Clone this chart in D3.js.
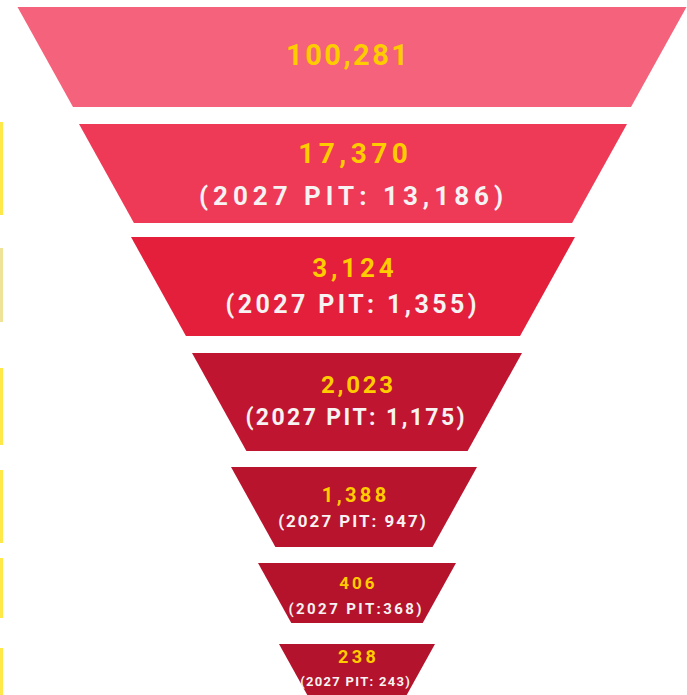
<!DOCTYPE html>
<html>
<head>
<meta charset="utf-8">
<script src="https://cdn.jsdelivr.net/npm/d3@7/dist/d3.min.js"></script>
<style>
  html, body { margin: 0; padding: 0; background: #ffffff; }
  svg { display: block; }
  text { font-family: Roboto, "Open Sans", sans-serif; font-weight: 700; }
</style>
</head>
<body>
<svg id="chart" width="687" height="695"></svg>
<script>
// ---- data ----
const stages = ["Stage 1", "Stage 2", "Stage 3", "Stage 4", "Stage 5", "Stage 6", "Stage 7"];
const counts = [100281, 17370, 3124, 2023, 1388, 406, 238];
const pit2027 = [null, 13186, 1355, 1175, 947, 368, 243];
const pitLabelPrefix = ["", "2027 PIT: ", "2027 PIT: ", "2027 PIT: ", "2027 PIT: ", "2027 PIT:", "2027 PIT: "];
const stageColors = ["#f5627b", "#ee3a56", "#e31f3b", "#bf1530", "#b9142e", "#b5132c", "#b3132c"];

// ---- layout (styling, not data) ----
const W = 687, H = 695;
const segTop = [7, 124, 237, 353, 467, 563, 644];
const segHeight = [100, 99, 99, 98, 80, 60, 62];
const segTopHalf = [334.5, 274, 222, 165, 123, 99, 78];
const segCenter = [352, 353, 353, 357, 354, 357, 357];
const sideSlope = 0.555;
const mainFont = [29, 28, 26, 24, 20, 17, 18];
const mainLS = [2.5, 4.5, 3.8, 2.8, 3.4, 3, 3.4];
const mainBase = [65, 163, 277, 393, 502, 589, 663];
const subFont = [0, 26, 25, 23, 17, 15, 13];
const subLS = [0, 5, 3.4, 2.4, 2, 2.4, 1.3];
const subBase = [0, 205, 313, 425, 527, 614, 686];
const edgeMarks = [[122, 215], [248, 322], [368, 445], [470, 543], [558, 618], [648, 695]];

const svg = d3.select("#chart");
svg.append("rect").attr("width", W).attr("height", H).attr("fill", "#ffffff");

const color = d3.scaleOrdinal().domain(stages).range(stageColors);
const fmt = d3.format(",");

// decorative yellow marks on the left edge
svg.append("g").selectAll("rect").data(edgeMarks).join("rect")
  .attr("x", 0).attr("width", 3)
  .attr("y", d => d[0]).attr("height", d => d[1] - d[0])
  .attr("fill", (d, i) => i === 1 ? "#efe39a" : "#ffe84a");

const rows = stages.map((s, i) => ({
  stage: s, count: counts[i], pit: pit2027[i], i
}));

const g = svg.append("g");
g.selectAll("path.seg").data(rows).join("path")
  .attr("class", "seg")
  .attr("fill", d => color(d.stage))
  .attr("d", d => {
    const i = d.i;
    const y0 = segTop[i], y1 = segTop[i] + segHeight[i];
    const cx = segCenter[i];
    const h0 = segTopHalf[i], h1 = h0 - sideSlope * segHeight[i];
    const p = d3.path();
    p.moveTo(cx - h0, y0);
    p.lineTo(cx + h0, y0);
    p.lineTo(cx + h1, y1);
    p.lineTo(cx - h1, y1);
    p.closePath();
    return p.toString();
  });

g.selectAll("text.main").data(rows).join("text")
  .attr("class", "main")
  .attr("x", d => segCenter[d.i] - (d.i === 0 ? 5 : 0) + mainLS[d.i] / 2)
  .attr("y", d => mainBase[d.i])
  .attr("text-anchor", "middle")
  .attr("font-size", d => mainFont[d.i])
  .attr("font-weight", d => d.i === 0 ? 500 : 700)
  .attr("letter-spacing", d => mainLS[d.i])
  .attr("fill", "#ffcc00")
  .text(d => fmt(d.count));

g.selectAll("text.sub").data(rows.filter(d => d.pit !== null)).join("text")
  .attr("class", "sub")
  .attr("x", d => segCenter[d.i] - 2 + subLS[d.i] / 2)
  .attr("y", d => subBase[d.i])
  .attr("text-anchor", "middle")
  .attr("font-size", d => subFont[d.i])
  .attr("letter-spacing", d => subLS[d.i])
  .attr("fill", "#f7f3f3")
  .text(d => "(" + pitLabelPrefix[d.i] + fmt(d.pit) + ")");
</script>
</body>
</html>
